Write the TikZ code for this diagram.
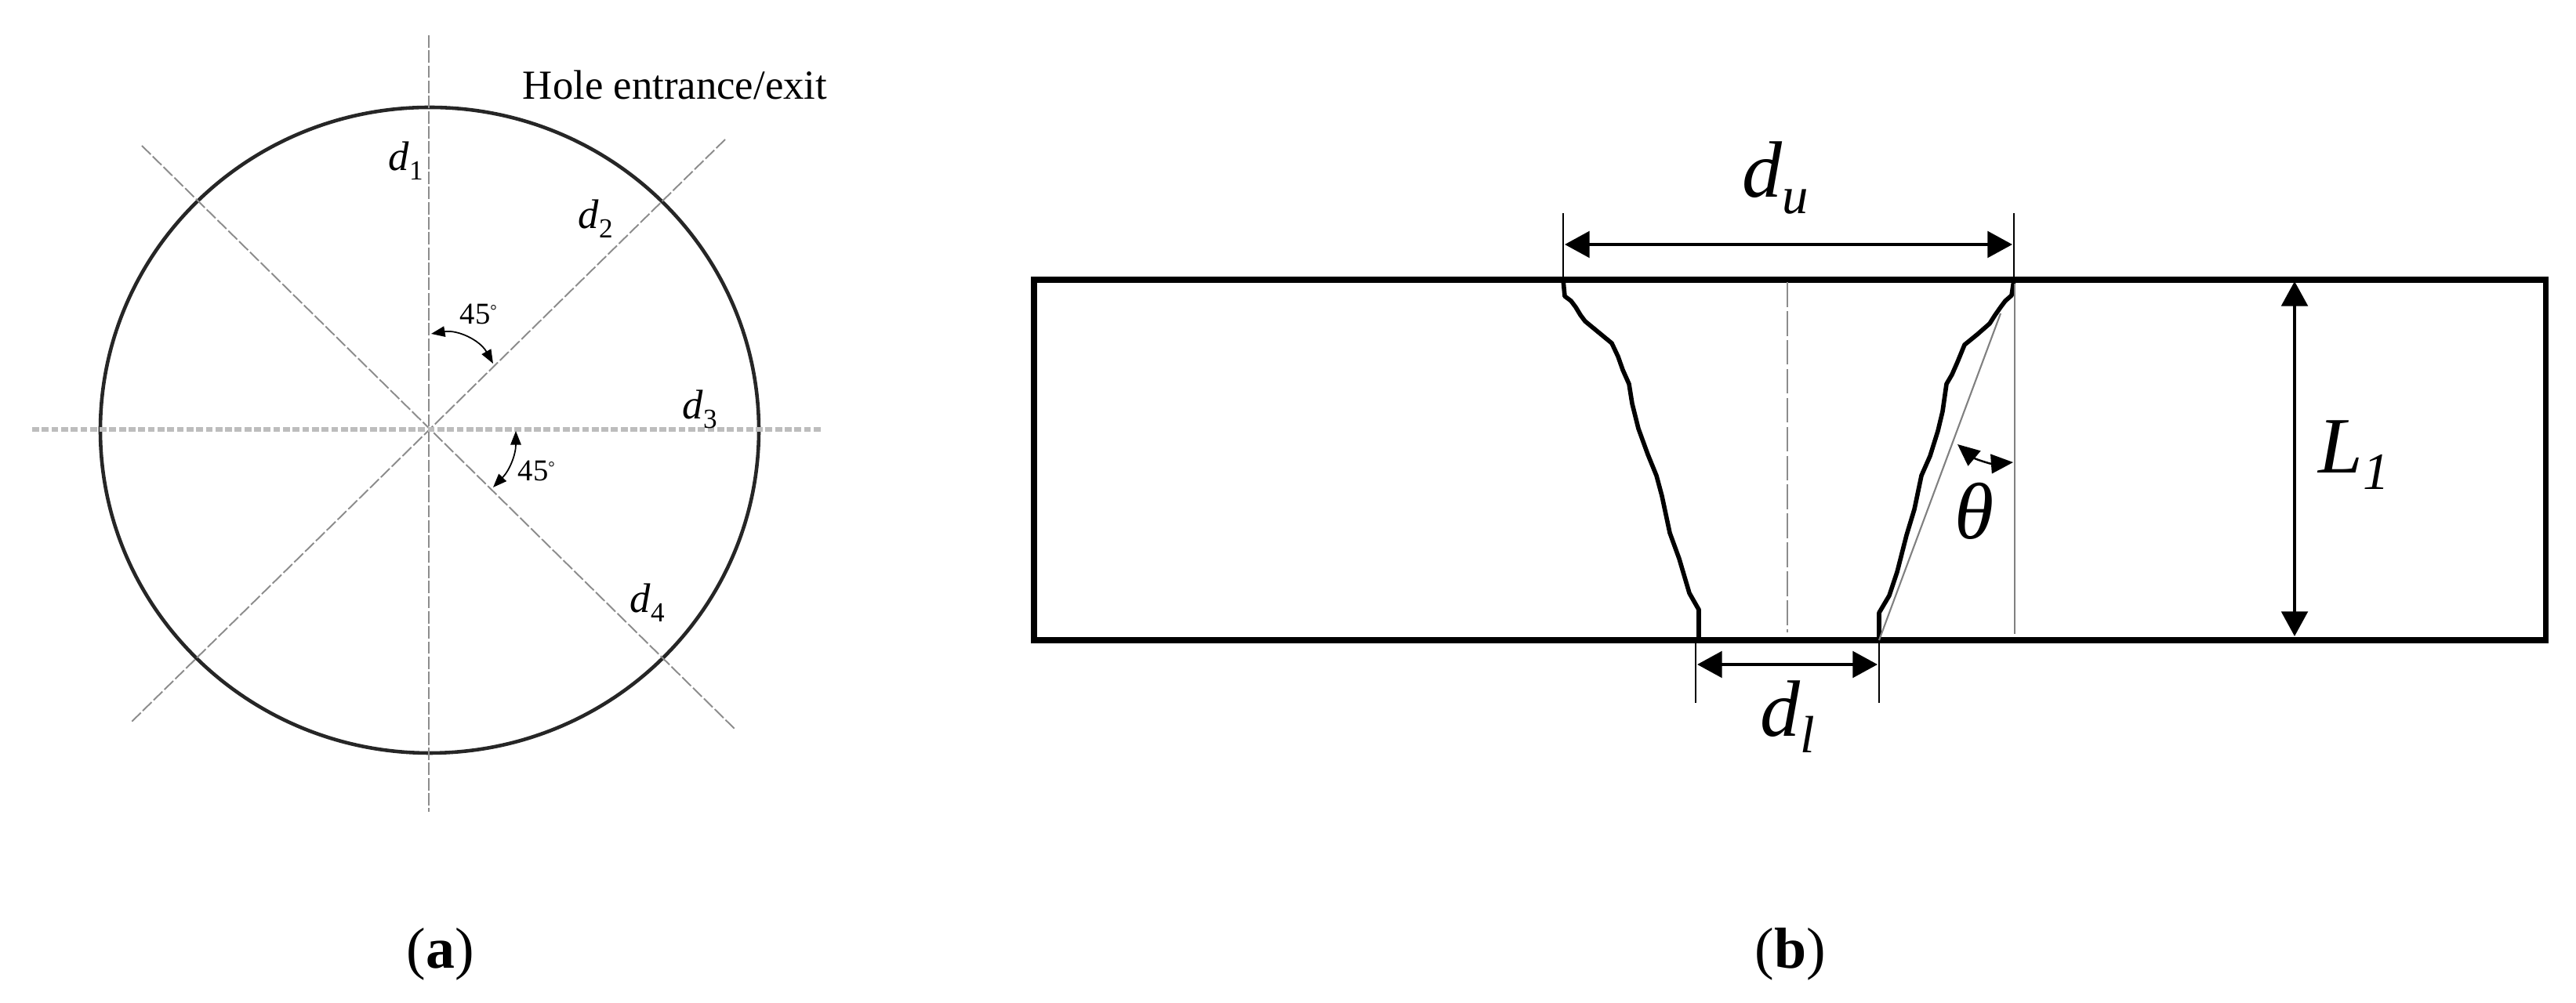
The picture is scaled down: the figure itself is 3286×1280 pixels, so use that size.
\documentclass[tikz,border=0pt]{standalone}
\usepackage{tikz}
\usepackage{xcolor}
\usepackage{fontspec}
\setmainfont{Liberation Serif}
\usetikzlibrary{arrows.meta, calc}
\definecolor{centerGray}{HTML}{8C8C8C}
\definecolor{axisGray}{HTML}{BDBDBD}
\newcommand{\smallsub}[1]{\raisebox{-3.4pt}{\fontsize{10}{10}\selectfont\upshape #1}}
\newcommand{\bigsub}[1]{\raisebox{-5.7pt}{\fontsize{19}{19}\selectfont #1}}
\newcommand{\tinydeg}{\raisebox{3pt}{\fontsize{6}{6}\selectfont °}}
\tikzstyle{outline} = [line width=1.3pt, draw=black!85]
\tikzstyle{plate} = [line width=2pt, draw=black]
\tikzstyle{profile} = [line width=1.6pt, draw=black, line join=round]
\tikzstyle{centerline} = [line width=0.55pt, draw=centerGray, dash pattern=on 4.5pt off 1pt]
\tikzstyle{holeaxis} = [line width=0.55pt, draw=centerGray, dash pattern=on 9pt off 1.5pt]
\tikzstyle{axis} = [line width=1.5pt, draw=axisGray, dash pattern=on 2.5pt off 1pt]
\tikzstyle{tick} = [line width=0.7pt, draw=black]
\tikzstyle{helper} = [line width=0.6pt, draw=black!50]
\tikzstyle{dimarrow} = [line width=1.2pt, {Triangle[length=9pt,width=9.5pt]}-{Triangle[length=9pt,width=9.5pt]}]
\tikzstyle{anglearrow} = [line width=0.5pt, {Triangle[length=5pt,width=3.8pt]}-{Triangle[length=5pt,width=3.8pt]}]
\tikzstyle{thetaarrow} = [line width=0.7pt, {Triangle[length=8pt,width=7pt]}-{Triangle[length=8pt,width=7pt]}]
\tikzstyle{smalllabel} = [inner sep=0pt, anchor=base west, font=\fontsize{15}{15}\selectfont\itshape]
\tikzstyle{anglelabel} = [inner sep=0pt, anchor=base west, font=\fontsize{11}{11}\selectfont]
\tikzstyle{biglabel} = [inner sep=0pt, anchor=base west, font=\fontsize{29}{29}\selectfont\itshape]
\tikzstyle{caption} = [inner sep=0pt, font=\fontsize{21}{21}\selectfont]

\begin{document}
\begin{tikzpicture}[x=0.01cm,y=-0.01cm]
\useasboundingbox (0,0) rectangle (3286,1280);

% panel (a)
\coordinate (holeCenter) at (548,549);
\draw [outline] (holeCenter) ellipse [x radius=420, y radius=412];
\coordinate (d1Top) at (547,45);
\coordinate (d1Bottom) at (547,1036);
\coordinate (d2Top) at (925,178);
\coordinate (d2Bottom) at (168,921);
\coordinate (d3Left) at (41,548);
\coordinate (d3Right) at (1050,548);
\coordinate (d4Top) at (181,186);
\coordinate (d4Bottom) at (937,930);
\draw [centerline] (d1Top) -- (d1Bottom);
\draw [centerline] (d2Top) -- (d2Bottom);
\draw [centerline] (d4Top) -- (d4Bottom);
\draw [axis] (d3Left) -- (d3Right);

\node (holeLabel) [inner sep=0pt, font=\fontsize{15}{15}\selectfont] at (861,108) {Hole entrance/exit};
\node (d1Label) [smalllabel] at (495,218) {d\smallsub{1}};
\node (d2Label) [smalllabel] at (737,292) {d\smallsub{2}};
\node (d3Label) [smalllabel] at (870,535) {d\smallsub{3}};
\node (d4Label) [smalllabel] at (803,782) {d\smallsub{4}};

\coordinate (arcOneA) at (550,426);
\coordinate (arcOneB) at (629,464);
\coordinate (arcTwoA) at (658,550);
\coordinate (arcTwoB) at (629,622);
\draw [anglearrow] (arcOneA) to [bend left=35] (arcOneB);
\draw [anglearrow] (arcTwoA) to [bend left=22] (arcTwoB);
\node (angleOne) [anglelabel] at (586,414) {45\tinydeg};
\node (angleTwo) [anglelabel] at (660,614) {45\tinydeg};

\node (capA) [caption] at (562,1218) {(\textbf{a})};

% panel (b)
\draw [plate] (1319,357) rectangle (3247,817);
\coordinate (holeAxisTop) at (2280,360);
\coordinate (holeAxisBottom) at (2280,807);
\draw [holeaxis] (holeAxisTop) -- (holeAxisBottom);

\draw [profile] (1994,357) -- (1996,378) -- (2004,384) -- (2010,392) -- (2016,402) -- (2022,410) -- (2039,424) -- (2056,438)
  -- (2064,455) -- (2070,472) -- (2078,490) -- (2082,515) -- (2090,547) -- (2102,580) -- (2113,607)
  -- (2120,633) -- (2130,680) -- (2142,713) -- (2155,757) -- (2167,778) -- (2167,817);
\draw [profile] (2569,357) -- (2566,377) -- (2558,384) -- (2552,392) -- (2545,402) -- (2538,413) -- (2522,427) -- (2506,440)
  -- (2497,462) -- (2490,478) -- (2483,490) -- (2478,525) -- (2472,550) -- (2462,582) -- (2451,607)
  -- (2442,650) -- (2432,683) -- (2420,730) -- (2410,760) -- (2397,782) -- (2397,817);

\coordinate (upperLeft) at (1994,272);
\coordinate (upperLeftFoot) at (1994,357);
\coordinate (upperRight) at (2569,272);
\coordinate (upperRightFoot) at (2569,357);
\coordinate (lowerLeft) at (2163,897);
\coordinate (lowerLeftFoot) at (2163,817);
\coordinate (lowerRight) at (2397,897);
\coordinate (lowerRightFoot) at (2397,817);
\draw [tick] (upperLeft) -- (upperLeftFoot);
\draw [tick] (upperRight) -- (upperRightFoot);
\draw [tick] (lowerLeft) -- (lowerLeftFoot);
\draw [tick] (lowerRight) -- (lowerRightFoot);

\coordinate (guideTop) at (2570,362);
\coordinate (guideBottom) at (2570,809);
\coordinate (slantTop) at (2552,400);
\draw [helper] (guideTop) -- (guideBottom);
\draw [helper] (lowerRightFoot) -- (slantTop);

\coordinate (duA) at (1996,312);
\coordinate (duB) at (2567,312);
\coordinate (dlA) at (2165,848);
\coordinate (dlB) at (2395,848);
\coordinate (l1A) at (2927,359);
\coordinate (l1B) at (2927,812);
\draw [dimarrow] (duA) -- (duB);
\draw [dimarrow] (dlA) -- (dlB);
\draw [dimarrow] (l1A) -- (l1B);

\coordinate (thetaA) at (2497,567);
\coordinate (thetaB) at (2568,590);
\draw [thetaarrow] (thetaA) to [bend right=22] (thetaB);

\node (duLabel) [biglabel] at (2222,252) {d\bigsub{u}};
\node (dlLabel) [biglabel] at (2245,940) {d\bigsub{l}};
\node (l1Label) [biglabel] at (2957,604) {L\bigsub{1}};
\node (thetaLabel) [inner sep=0pt, font=\fontsize{29}{29}\selectfont\itshape] at (2519,652) {θ};

\node (capB) [caption] at (2284,1218) {(\textbf{b})};

\end{tikzpicture}
\end{document}
